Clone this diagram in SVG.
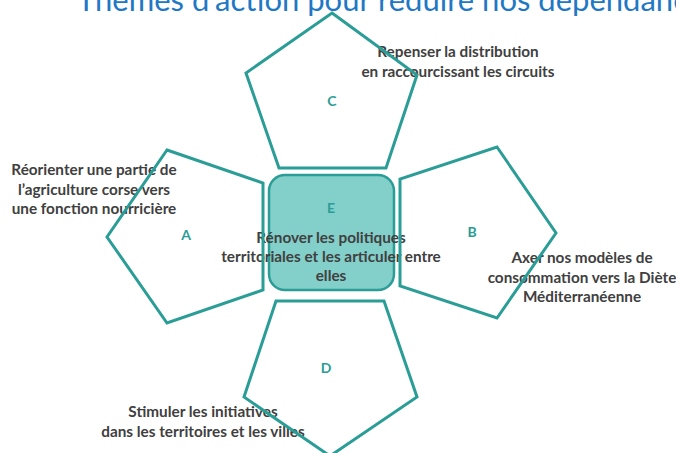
<svg xmlns="http://www.w3.org/2000/svg" width="676" height="453" viewBox="0 0 676 453">
<style>
.pent{fill:none;stroke:#2A9D96;stroke-width:3;stroke-linejoin:miter}
.box{fill:#83CFCA;stroke:#2A9D96;stroke-width:2.5}
.lbl{font-family:Lato,"Liberation Sans",sans-serif;font-weight:bold;font-size:14px;fill:#2A9D96;text-anchor:middle}
.txt{font-family:Lato,"Liberation Sans",sans-serif;font-weight:bold;font-size:15.3px;fill:#404040;text-anchor:middle}
.title{font-family:Lato,"Liberation Sans",sans-serif;font-size:31px;fill:#1F78C4}
</style>
<rect width="676" height="453" fill="#ffffff"/>
<text class="title" x="77" y="11">Thèmes d’action pour réduire nos dépendances</text>
<g id="E">
<rect class="box" x="269" y="175" width="125" height="115" rx="16" ry="16"/>
<text class="lbl" x="331" y="213">E</text>
<text class="txt" x="331" y="243">Rénover les politiques</text>
<text class="txt" x="331" y="262">territoriales et les articuler entre</text>
<text class="txt" x="331" y="281">elles</text>
</g>
<g id="C">
<text class="lbl" x="332" y="106">C</text>
<text class="txt" x="458" y="57">Repenser la distribution</text>
<text class="txt" x="458" y="77">en raccourcissant les circuits</text>
<polygon class="pent" points="332,13 417,75 386,168 279,168 246,73"/>
</g>
<g id="A">
<text class="lbl" x="186" y="240">A</text>
<text class="txt" x="94" y="175">Réorienter une partie de</text>
<text class="txt" x="94" y="195">l’agriculture corse vers</text>
<text class="txt" x="94" y="214">une fonction nourricière</text>
<polygon class="pent" points="167,150 263,183 263,290 167,323 107,237"/>
</g>
<g id="B">
<text class="lbl" x="472" y="237">B</text>
<text class="txt" x="582" y="263">Axer nos modèles de</text>
<text class="txt" x="582" y="283">consommation vers la Diète</text>
<text class="txt" x="582" y="302">Méditerranéenne</text>
<polygon class="pent" points="497,147 556,233 497,318 400,286 400,179"/>
</g>
<g id="D">
<text class="lbl" x="326" y="373">D</text>
<text class="txt" x="203" y="417">Stimuler les initiatives</text>
<text class="txt" x="203" y="437">dans les territoires et les villes</text>
<polygon class="pent" points="276,301 384,301 417,397 330,456 244,397"/>
</g>
<g id="connectors"></g>
</svg>
